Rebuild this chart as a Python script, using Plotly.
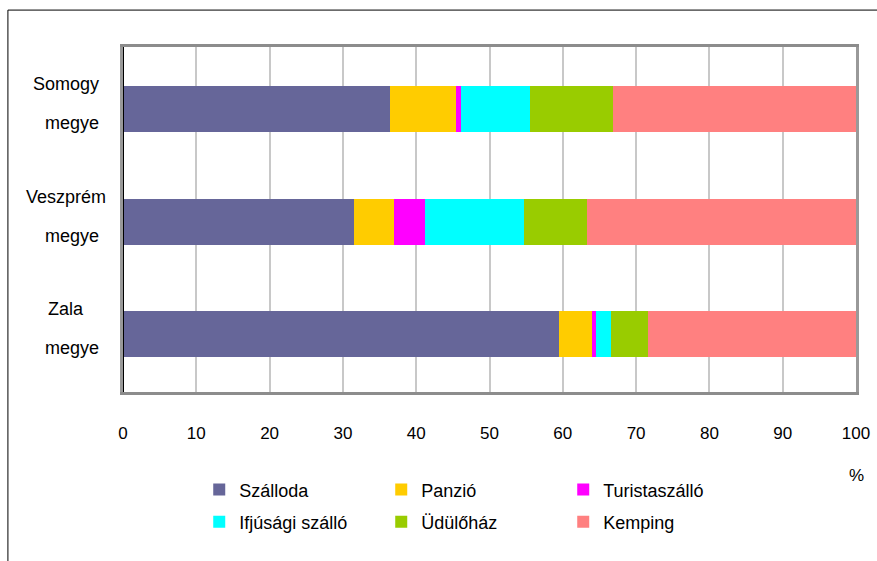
import plotly.graph_objects as go

# Szálláshelytípusok megoszlása megyénként (%)
megyek = ["Somogy", "Veszprém", "Zala"]
tipusok = ["Szálloda", "Panzió", "Turistaszálló", "Ifjúsági szálló", "Üdülőház", "Kemping"]
szalloda = [36.4, 31.5, 59.5]
panzio = [9.0, 5.5, 4.5]
turistaszallo = [0.7, 4.2, 0.5]
ifjusagi = [9.4, 13.5, 2.1]
udulohaz = [11.3, 8.6, 5.0]
kemping = [33.2, 36.7, 28.4]
x_ticks = list(range(0, 101, 10))

szinek = ["#666699", "#FFCC00", "#FF00FF", "#00FFFF", "#99CC00", "#FF8080"]
ertekek = [szalloda, panzio, turistaszallo, ifjusagi, udulohaz, kemping]

FONT = "Liberation Sans, Arial, sans-serif"

fig = go.Figure()
for i, (nev, vals, szin) in enumerate(zip(tipusok, ertekek, szinek)):
    fig.add_trace(go.Bar(
        y=megyek,
        x=vals,
        name=nev,
        orientation="h",
        width=0.41,
        marker=dict(color=szin, line=dict(width=0)),
        legend="legend" if i < 3 else "legend2",
        hovertemplate="%{y}: %{x:.1f}%<extra>" + nev + "</extra>",
    ))

# Megyenevek két sorban
for m in megyek:
    fig.add_annotation(x=-0.078, xref="paper", y=m, yref="y", text=m,
                       showarrow=False, xanchor="center", yshift=25,
                       font=dict(size=18, color="black", family=FONT))
    fig.add_annotation(x=-0.070, xref="paper", y=m, yref="y", text="megye",
                       showarrow=False, xanchor="center", yshift=-14,
                       font=dict(size=18, color="black", family=FONT))

fig.add_annotation(x=1.0, xref="paper", y=-0.274, yref="paper", text="%",
                   showarrow=False, xanchor="center",
                   font=dict(size=17, color="black", family=FONT))

# Bal oldali fekete tengelyvonal
fig.add_shape(type="line", xref="x", yref="paper", x0=0, x1=0, y0=0, y1=1,
              line=dict(color="black", width=2))
# Külső keret
fig.add_shape(type="rect", xref="paper", yref="paper",
              x0=-0.157, x1=1.04, y0=-0.51, y1=1.107,
              line=dict(color="black", width=1))

legend_kozos = dict(
    orientation="h", xanchor="left", yanchor="top",
    traceorder="normal",
    entrywidth=137, entrywidthmode="pixels",
    font=dict(size=18), bgcolor="rgba(0,0,0,0)",
)

fig.update_layout(
    width=877, height=561,
    barmode="stack",
    plot_bgcolor="white",
    paper_bgcolor="white",
    margin=dict(l=123, r=21, t=47, b=169, autoexpand=False),
    font=dict(family=FONT, size=17, color="black"),
    xaxis=dict(
        range=[0, 100],
        tickvals=x_ticks,
        showgrid=True, gridcolor="#c8c8c8", gridwidth=1.5,
        zeroline=False,
        showline=True, linecolor="#8c8c8c", linewidth=3, mirror=True,
        ticks="", ticklabelstandoff=24,
        tickfont=dict(size=17),
    ),
    yaxis=dict(
        categoryorder="array", categoryarray=megyek,
        range=[2.515, -0.555],
        showticklabels=False,
        showgrid=False, zeroline=False,
        showline=True, linecolor="#999999", linewidth=3, mirror=True,
    ),
    legend=dict(x=0.104, y=-0.23, **legend_kozos),
    legend2=dict(x=0.104, y=-0.323, **legend_kozos),
)

fig.write_html("out.html", config={"displayModeBar": False},
               post_script="document.body.style.margin='0';")
